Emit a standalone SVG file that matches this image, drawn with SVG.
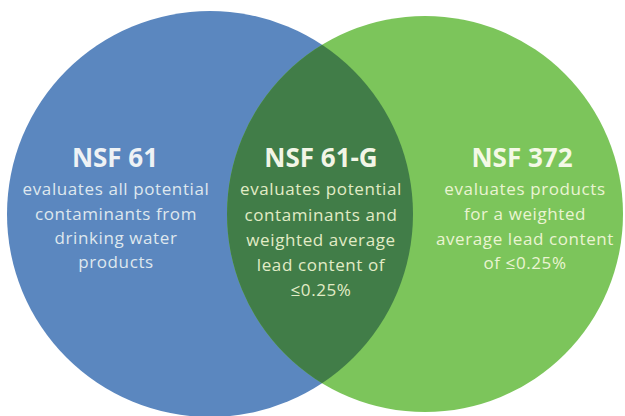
<svg xmlns="http://www.w3.org/2000/svg" width="625" height="416" viewBox="0 0 625 416">
<defs>
<clipPath id="blueClip"><circle cx="210" cy="214" r="203"/></clipPath>
<style>
.title{font-family:"Open Sans","Noto Sans","DejaVu Sans",sans-serif;font-weight:700;font-size:26px;text-anchor:middle}
.body{font-family:"Open Sans","Noto Sans","DejaVu Sans",sans-serif;font-size:17px;letter-spacing:0.6px;text-anchor:middle}
.tb{fill:#eef2f5}
.bb{fill:#dfe7ee}
.tg{fill:#f2f5e6}
.bg{fill:#e2ecc6}
.tl{fill:#f4f9e6}
.bl{fill:#eaf4d2}
</style>
</defs>
<rect width="625" height="416" fill="#ffffff"/>
<g id="nsf61">
<circle cx="210" cy="214" r="203" fill="#5b87bf"/>
</g>
<g id="nsf372">
<circle cx="425" cy="214" r="198" fill="#7cc55b"/>
</g>
<g id="nsf61g">
<circle cx="425" cy="214" r="198" fill="#417d48" clip-path="url(#blueClip)"/>
</g>
<g id="text-nsf61">
<text class="title tb" x="115" y="167">NSF 61</text>
<text class="body bb" x="116" y="195">evaluates all potential</text>
<text class="body bb" x="116" y="220">contaminants from</text>
<text class="body bb" x="116" y="244">drinking water</text>
<text class="body bb" x="116" y="268">products</text>
</g>
<g id="text-nsf61g">
<text class="title tg" x="321" y="167">NSF 61-G</text>
<text class="body bg" x="321" y="195">evaluates potential</text>
<text class="body bg" x="321" y="221">contaminants and</text>
<text class="body bg" x="321" y="246">weighted average</text>
<text class="body bg" x="321" y="271">lead content of</text>
<text class="body bg" x="321" y="296">≤0.25%</text>
</g>
<g id="text-nsf372">
<text class="title tl" x="522" y="167">NSF 372</text>
<text class="body bl" x="525" y="195">evaluates products</text>
<text class="body bl" x="525" y="220">for a weighted</text>
<text class="body bl" x="525" y="245">average lead content</text>
<text class="body bl" x="525" y="269">of ≤0.25%</text>
</g>
<g id="connectors"/>
</svg>
